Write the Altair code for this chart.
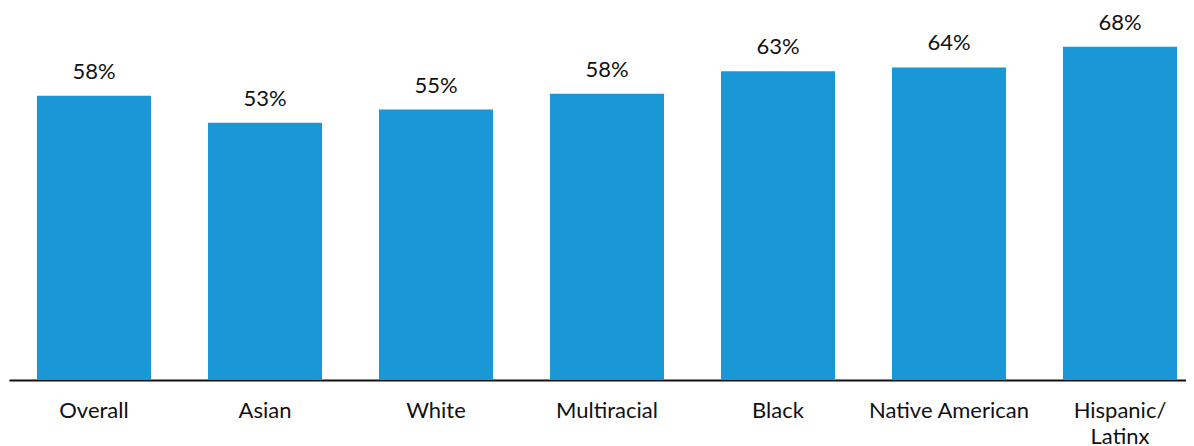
import altair as alt
import pandas as pd

categories = ["Overall", "Asian", "White", "Multiracial", "Black", "Native American", "Hispanic/ Latinx"]
values = [58.0, 52.5, 55.2, 58.4, 63.0, 63.8, 68.0]
value_labels = ["58%", "53%", "55%", "58%", "63%", "64%", "68%"]

df = pd.DataFrame({"category": categories, "value": values, "label": value_labels})

x = alt.X(
    "category:N",
    sort=categories,
    title=None,
    scale=alt.Scale(paddingInner=0.333, paddingOuter=0.108, align=0.757),
    axis=alt.Axis(
        labelAngle=0,
        ticks=False,
        domainColor="#111111",
        domainWidth=2,
        labelFont="Lato",
        labelFontSize=22,
        labelColor="#111111",
        labelBaseline="alphabetic",
        labelPadding=37,
        labelLineHeight=26,
        labelExpr="datum.label == 'Hispanic/ Latinx' ? ['Hispanic/', 'Latinx'] : datum.label",
    ),
)
y = alt.Y("value:Q", scale=alt.Scale(domain=[0, 372 / 4.9], nice=False, zero=True), axis=None)

bars = alt.Chart(df).mark_bar(color="#1998D5").encode(x=x, y=y)
text = alt.Chart(df).mark_text(
    font="Lato", fontSize=22, color="#111111", baseline="alphabetic", dy=-17
).encode(x=x, y=y, text="label:N")

chart = (
    alt.layer(bars, text)
    .properties(
        width=1177,
        height=372,
        autosize=alt.AutoSizeParams(type="none"),
        padding={"left": 1, "top": 0, "right": 0, "bottom": 66},
    )
    .configure_view(stroke=None)
)

chart.save("out.html", embed_options={"renderer": "svg", "actions": False})
